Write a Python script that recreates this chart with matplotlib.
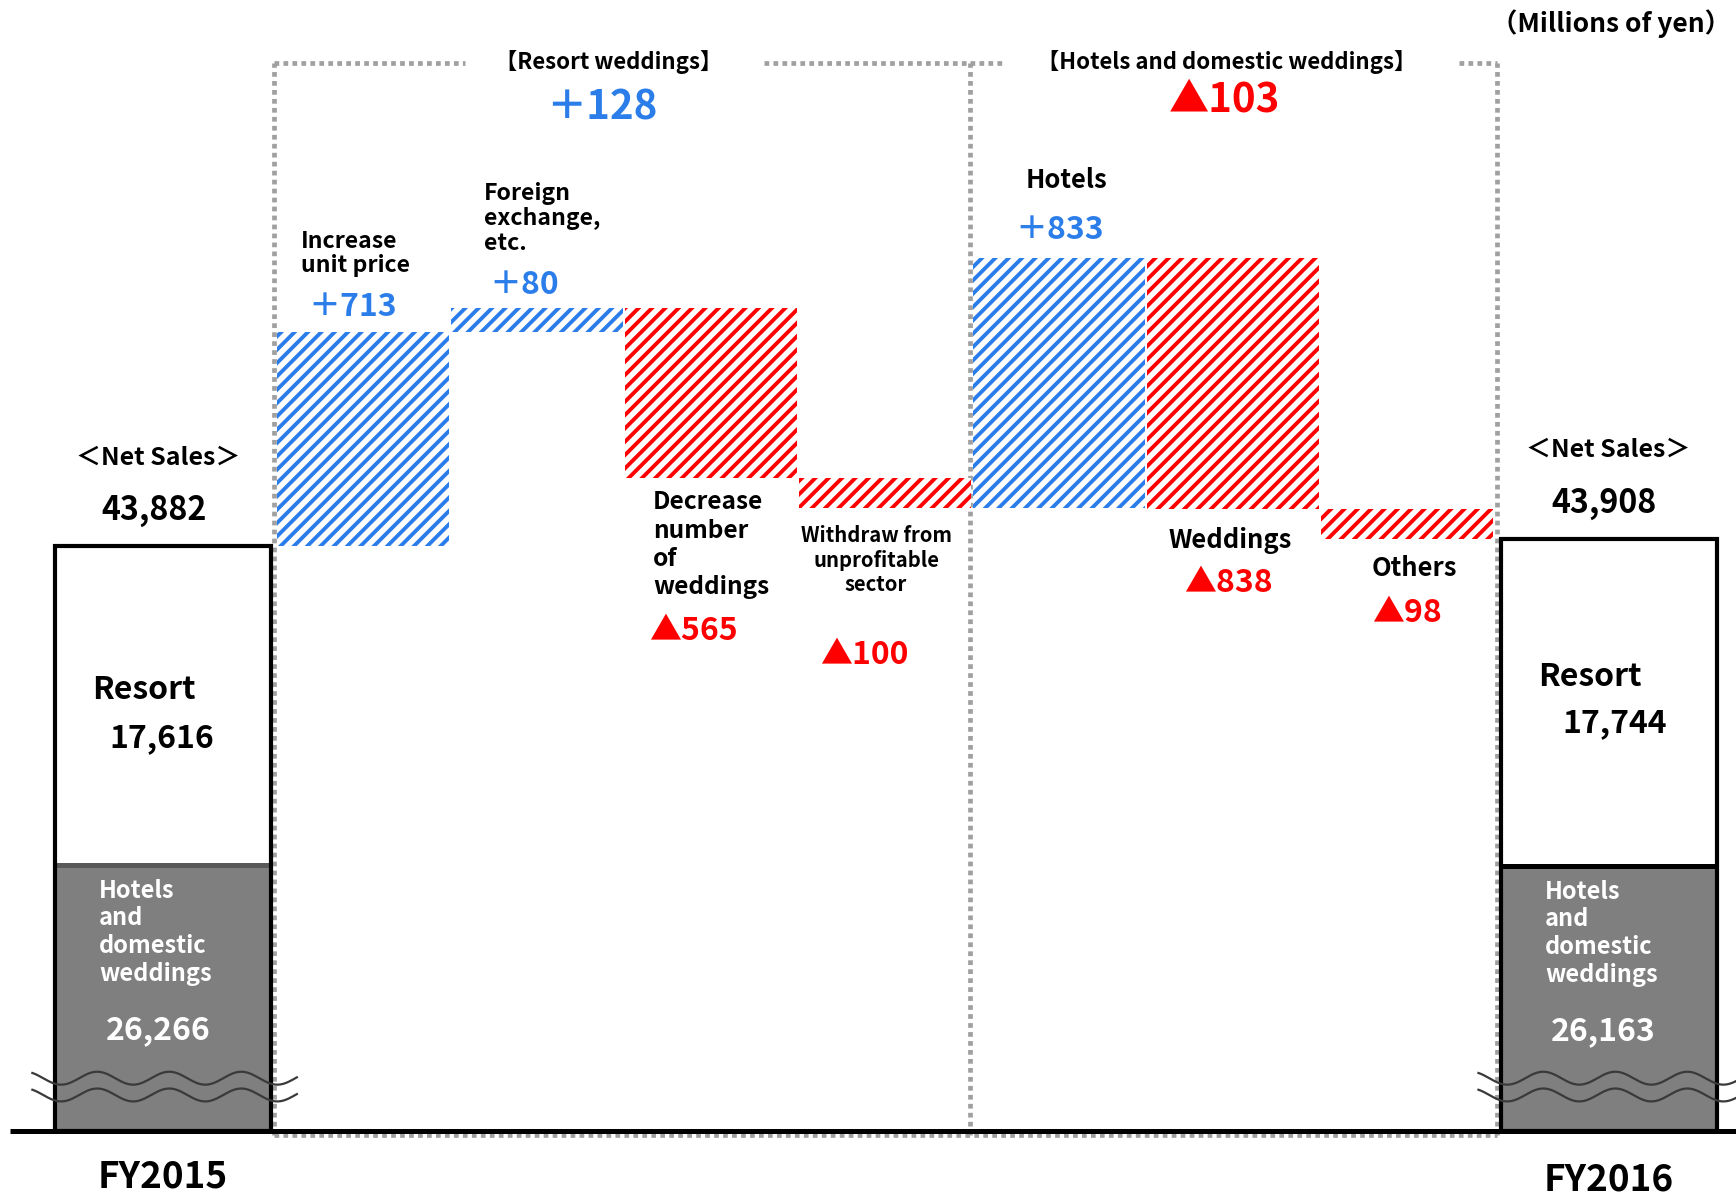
import numpy as np
import matplotlib
matplotlib.use("Agg")
from matplotlib import pyplot as plt
from matplotlib import transforms

plt.rcParams["font.family"] = ["Noto Sans CJK JP", "DejaVu Sans"]
plt.rcParams["hatch.linewidth"] = 1.4

# net sales by segment, millions of yen
years = ["FY2015", "FY2016"]
resort = [17616, 17744]
hotels = [26266, 26163]
totals = [43882, 43908]

# year-on-year changes
steps = ["Increase\nunit price", "Foreign\nexchange,\netc.", "Decrease\nnumber\nof\nweddings",
         "Withdraw from\nunprofitable\nsector", "Hotels", "Weddings", "Others"]
deltas = [713, 80, -565, -100, 833, -838, -98]
groups = ["【Resort weddings】", "【Hotels and domestic weddings】"]
group_deltas = [128, -103]

BLUE = "#2B7DE9"
RED = "#FF0000"
GRAY = "#7F7F7F"
DOT = "#A0A0A0"

# broken value axis: values below BREAK are squeezed
BREAK = 43400
LOW = 0.0338


def fwd(v):
    v = np.asarray(v, dtype=float)
    return np.where(v < BREAK, v * LOW, BREAK * LOW + (v - BREAK))


def inv(f):
    f = np.asarray(f, dtype=float)
    return np.where(f < BREAK * LOW, f / LOW, f - BREAK * LOW + BREAK)


def fmt(d):
    return ("＋{:,}" if d > 0 else "▲{:,}").format(abs(d))


fig = plt.figure(figsize=(8.68, 5.99), dpi=200)
ax = fig.add_axes([0, 0, 1, 1])
ax.set_yscale("function", functions=(fwd, inv))
ax.set_xlim(-1.086, 8.89)
ax.set_ylim(float(inv(-223)), float(inv(3770)))
ax.axis("off")
mix = transforms.blended_transform_factory(ax.transData, ax.transAxes)

# waterfall
xs = np.arange(1, len(deltas) + 1)
levels = totals[0] + np.cumsum(deltas)
starts = np.concatenate([[totals[0]], levels[:-1]])
lows = np.minimum(starts, levels)
tops = np.maximum(starts, levels)
cols = [BLUE if d > 0 else RED for d in deltas]
ax.bar(xs, np.abs(deltas), bottom=lows, width=0.99, color="white",
       edgecolor=cols, hatch="/////", linewidth=0, zorder=2)

# totals, drawn on the broken axis
tx = [-0.15, 8.16]
tw = 1.24
ax.bar(tx, hotels, width=tw, color=GRAY, linewidth=0, zorder=2)
ax.bar(tx, resort, bottom=hotels, width=tw, color="white", linewidth=0, zorder=2)
for x, h, c in zip(tx, hotels, ["#595959", "black"]):
    ax.hlines(h, x - tw / 2, x + tw / 2, color=c, lw=1.8, zorder=3)
ax.bar(tx, totals, width=tw, fill=False, edgecolor="black", linewidth=1.5, zorder=4)

# break marks
t = np.linspace(0, 1, 200)
for x in tx:
    x0, x1 = x - tw / 2 - 0.13, x + tw / 2 + 0.15
    wx = x0 + (x1 - x0) * t
    for yb in [0.1, 0.086]:
        ax.plot(wx, yb + 0.0054 * np.sin((wx - x0) / 0.414 * 2 * np.pi + 2.2),
                color="#3A3A3A", lw=0.8, transform=mix, zorder=5)

# baseline
ax.plot([-1.03, 8.89], [0, 0], color="black", lw=1.8, zorder=6, solid_capstyle="butt")

# dotted group frames
dot = dict(color=DOT, lw=1.7, dashes=(1, 0.9), dash_capstyle="butt", transform=mix, zorder=1)
top_y, bot_y = 0.947, 0.0526
for xv in [0.49, 4.49, 7.515]:
    ax.plot([xv, xv], [bot_y, top_y], **dot)
ax.plot([0.49, 7.515], [bot_y, bot_y], **dot)
for a, b in [(0.49, 1.586), (3.305, 4.49), (4.49, 4.672), (7.299, 7.515)]:
    ax.plot([a, b], [top_y, top_y], **dot)

for name, d, x in zip(groups, group_deltas, [2.41, 5.96]):
    ax.text(x, 0.948, name, transform=mix, ha="center", va="center",
            fontsize=8, fontweight="bold")
for d, x, y in zip(group_deltas, [2.37, 5.95], [0.91, 0.9165]):
    ax.text(x, y, fmt(d), transform=mix, ha="center", va="center", fontsize=14.5,
            fontweight="bold", color=BLUE if d > 0 else RED)

fig.text(0.997, 0.98, "（Millions of yen）", ha="right", va="center",
         fontsize=9.5, fontweight="bold")

# step labels: (name x, name offset, name ha, name va, name size, spacing, value x, value offset)
place = [
    (0.644, 19.8, "left", "bottom", 8.3, 1.1, 0.94, 9.0),
    (1.695, 19.4, "left", "bottom", 8.3, 1.1, 1.925, 8.3),
    (2.667, -4.5, "left", "top", 8.8, 1.22, 2.90, -55.0),
    (3.948, -6.3, "center", "top", 7.3, 1.2, 3.879, -53.0),
    (4.81, 28.0, "left", "center", 9.2, 1.0, 5.006, 10.0),
    (5.983, -11.0, "center", "center", 9.2, 1.0, 5.971, -26.6),
    (7.04, -10.8, "center", "center", 9.2, 1.0, 7.0, -26.6),
]
for i, (nx, ny, ha, va, fs, ls, vx, vy) in enumerate(place):
    d = deltas[i]
    anchor = tops[i] if d > 0 else lows[i]
    ax.annotate(steps[i], xy=(nx, anchor), xytext=(0, ny), textcoords="offset points",
                ha=ha, va=va, fontsize=fs, fontweight="bold", linespacing=ls,
                multialignment=ha)
    ax.annotate(fmt(d), xy=(vx, anchor), xytext=(0, vy), textcoords="offset points",
                ha="center", va="center", fontsize=11.5, fontweight="bold", color=cols[i])

# total labels
net_x = [(-0.178, -0.201), (8.155, 8.13)]
res_x = [(-0.557, -0.155), (7.753, 8.19)]
hot_x = [(-0.517, -0.178), (7.793, 8.126)]
res_off = [(63, 45.7), (68, 51.5)]
for j in range(2):
    ax.annotate("＜Net Sales＞", xy=(net_x[j][0], totals[j]), xytext=(0, 32),
                textcoords="offset points", ha="center", va="center",
                fontsize=9, fontweight="bold")
    ax.annotate("{:,}".format(totals[j]), xy=(net_x[j][1], totals[j]), xytext=(0, 12.8),
                textcoords="offset points", ha="center", va="center",
                fontsize=11.6, fontweight="bold")
    ax.annotate("Resort", xy=(res_x[j][0], hotels[j]), xytext=(0, res_off[j][0]),
                textcoords="offset points", ha="left", va="center",
                fontsize=11.5, fontweight="bold")
    ax.annotate("{:,}".format(resort[j]), xy=(res_x[j][1], hotels[j]), xytext=(0, res_off[j][1]),
                textcoords="offset points", ha="center", va="center",
                fontsize=11.5, fontweight="bold")
    ax.annotate("Hotels\nand\ndomestic\nweddings", xy=(hot_x[j][0], hotels[j]), xytext=(0, -5),
                textcoords="offset points", ha="left", va="top", color="white",
                fontsize=8.5, fontweight="bold", linespacing=1.2)
    ax.annotate("{:,}".format(hotels[j]), xy=(hot_x[j][1], hotels[j]), xytext=(0, -59.4),
                textcoords="offset points", ha="center", va="center", color="white",
                fontsize=11.5, fontweight="bold")
    ax.annotate(years[j], xy=(tx[j], 0), xytext=(0, -16.5 - j),
                textcoords="offset points", ha="center", va="center",
                fontsize=13.3, fontweight="bold")

fig.savefig("out.png", dpi=200)
